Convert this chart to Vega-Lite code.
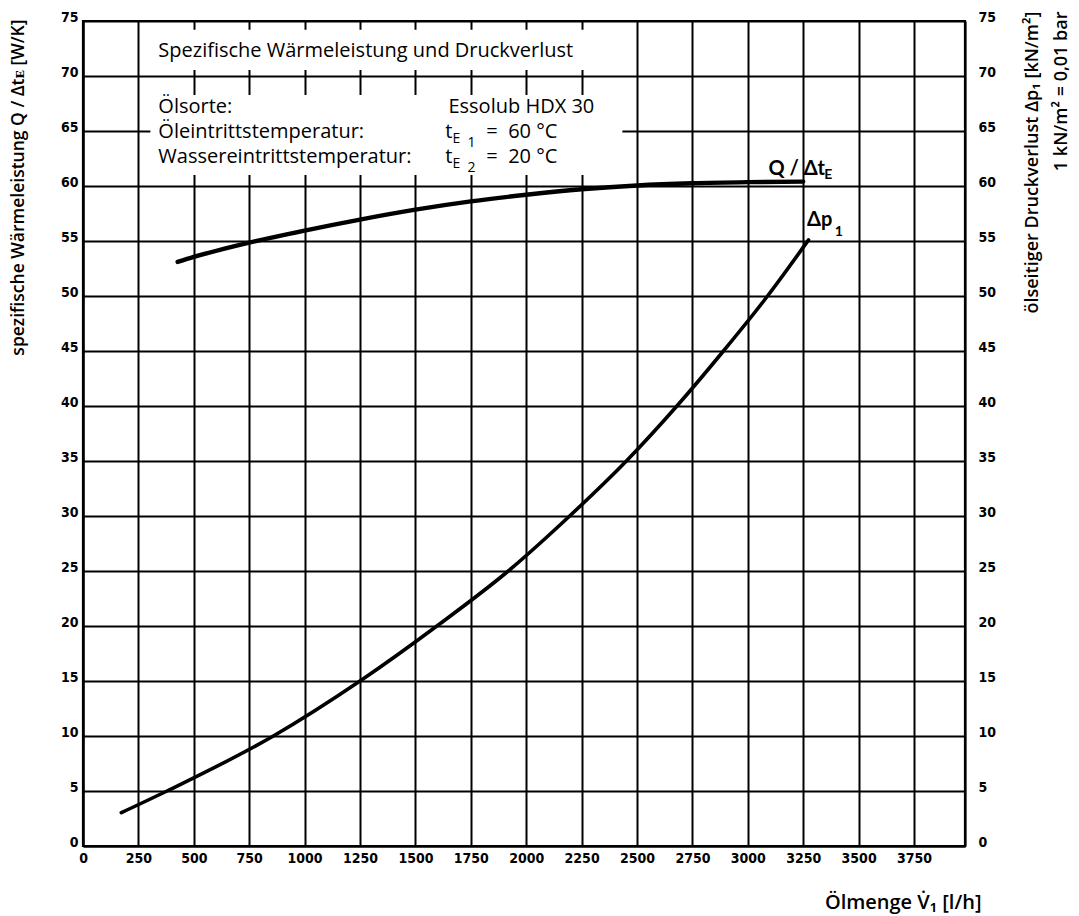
{
  "$schema": "https://vega.github.io/schema/vega-lite/v6.json",
  "width": 882,
  "height": 825,
  "autosize": "none",
  "padding": {"left": 83, "top": 21, "right": 114, "bottom": 70},
  "background": "white",
  "config": {
    "view": {"stroke": "black", "strokeWidth": 2.2},
    "axis": {
      "domainColor": "black", "domainWidth": 2.2,
      "gridColor": "black", "gridWidth": 2, "gridOpacity": 1,
      "ticks": false,
      "labelFont": "DejaVu Sans Condensed", "labelFontWeight": "bold", "labelFontSize": 14, "labelColor": "black",
      "labelFlush": false, "labelOverlap": false, "labelBound": false,
      "titleFont": "Open Sans", "titleFontWeight": 600, "titleFontSize": 17, "titleColor": "black"
    }
  },
  "datasets": {
    "mask": [
      {"x": 304, "xe": 2434, "y": 70.55, "ye": 74.2},
      {"x": 304, "xe": 2434, "y": 61.0, "ye": 68.27}
    ],
    "q": [
      {"x": 427, "y": 53.1}, {"x": 500, "y": 53.55}, {"x": 750, "y": 54.85}, {"x": 1000, "y": 55.95},
      {"x": 1250, "y": 56.95}, {"x": 1500, "y": 57.85}, {"x": 1750, "y": 58.6}, {"x": 2000, "y": 59.2},
      {"x": 2250, "y": 59.7}, {"x": 2500, "y": 60.05}, {"x": 2750, "y": 60.25}, {"x": 3000, "y": 60.35},
      {"x": 3250, "y": 60.4}
    ],
    "dp": [
      {"x": 173, "y": 3.03}, {"x": 379, "y": 5.0}, {"x": 859, "y": 10.0}, {"x": 1250, "y": 15.0},
      {"x": 1597, "y": 20.0}, {"x": 1919, "y": 25.0}, {"x": 2196, "y": 30.0}, {"x": 2452, "y": 35.0},
      {"x": 2680, "y": 40.0}, {"x": 2890, "y": 45.0}, {"x": 3089, "y": 50.0}, {"x": 3274, "y": 55.1}
    ],
    "boxText": [
      {"x": 340, "y": 71.75, "t": "Spezifische Wärmeleistung und Druckverlust"},
      {"x": 340, "y": 66.65, "t": "Ölsorte:"},
      {"x": 340, "y": 64.4, "t": "Öleintrittstemperatur:"},
      {"x": 340, "y": 62.1, "t": "Wassereintrittstemperatur:"},
      {"x": 1649, "y": 66.65, "t": "Essolub HDX 30"},
      {"x": 1635, "y": 64.4, "t": "t"},
      {"x": 1635, "y": 62.1, "t": "t"},
      {"x": 1820, "y": 64.4, "t": "= \u00a060 °C"},
      {"x": 1820, "y": 62.1, "t": "= \u00a020 °C"}
    ],
    "boxSub": [
      {"x": 1667, "y": 63.9, "t": "E"},
      {"x": 1735, "y": 63.57, "t": "1"},
      {"x": 1667, "y": 61.6, "t": "E"},
      {"x": 1735, "y": 61.3, "t": "2"}
    ],
    "curveText": [
      {"x": 3093, "y": 61.0, "t": "Q / Δt"},
      {"x": 3267, "y": 56.36, "t": "Δp"}
    ],
    "curveSub": [
      {"x": 3345, "y": 60.64, "t": "E"},
      {"x": 3392, "y": 55.5, "t": "1"}
    ]
  },
  "resolve": {"axis": {"x": "independent", "y": "independent"}},
  "layer": [
    {
      "data": {"name": "mask"},
      "mark": {"type": "rect", "fill": "white", "stroke": null},
      "encoding": {
        "x": {
          "field": "x", "type": "quantitative",
          "scale": {"domain": [0, 3980], "nice": false, "zero": false},
          "axis": {
            "orient": "bottom", "format": "d",
            "values": [0, 250, 500, 750, 1000, 1250, 1500, 1750, 2000, 2250, 2500, 2750, 3000, 3250, 3500, 3750],
            "labelPadding": 5, "labelAngle": 0, "labelBaseline": "top",
            "title": "Ölmenge V̇₁ [l/h]", "titleFontSize": 20,
            "titleX": 898, "titleY": 62, "titleAlign": "right", "titleBaseline": "alphabetic"
          }
        },
        "x2": {"field": "xe"},
        "y": {
          "field": "y", "type": "quantitative",
          "scale": {"domain": [0, 75], "nice": false, "zero": false},
          "axis": {
            "orient": "left",
            "values": [0, 5, 10, 15, 20, 25, 30, 35, 40, 45, 50, 55, 60, 65, 70, 75],
            "labelPadding": 5, "labelBaseline": "alphabetic",
            "title": "spezifische Wärmeleistung Q / Δtᴇ [W/K]", "titleFontSize": 17.5,
            "titleAngle": -90, "titleAlign": "right", "titleBaseline": "middle",
            "titleX": -65, "titleY": -2
          }
        },
        "y2": {"field": "ye"}
      }
    },
    {
      "data": {"name": "dp"},
      "mark": {"type": "line", "color": "black", "strokeWidth": 3.6, "interpolate": "monotone", "strokeCap": "round"},
      "encoding": {
        "x": {"field": "x", "type": "quantitative", "scale": {"domain": [0, 3980], "nice": false, "zero": false}, "axis": null},
        "y": {
          "field": "y", "type": "quantitative",
          "scale": {"domain": [0, 75], "nice": false, "zero": false},
          "axis": {
            "orient": "right", "grid": false,
            "values": [0, 5, 10, 15, 20, 25, 30, 35, 40, 45, 50, 55, 60, 65, 70, 75],
            "labelPadding": 13, "labelAlign": "left", "labelBaseline": "alphabetic",
            "title": ["ölseitiger Druckverlust Δp₁ [kN/m²]", "1 kN/m² = 0,01 bar"],
            "titleAngle": -90, "titleAlign": "right", "titleBaseline": "middle",
            "titleX": 67, "titleY": -10, "titleLineHeight": 29, "titleFontSize": 18
          }
        }
      }
    },
    {
      "data": {"name": "q"},
      "mark": {"type": "line", "color": "black", "strokeWidth": 4.4, "interpolate": "monotone", "strokeCap": "round"},
      "encoding": {
        "x": {"field": "x", "type": "quantitative", "scale": {"domain": [0, 3980], "nice": false, "zero": false}, "axis": null},
        "y": {"field": "y", "type": "quantitative", "scale": {"domain": [0, 75], "nice": false, "zero": false}, "axis": null}
      }
    },
    {
      "data": {"name": "boxText"},
      "mark": {"type": "text", "align": "left", "baseline": "alphabetic", "font": "Open Sans", "fontSize": 20, "color": "black"},
      "encoding": {
        "x": {"field": "x", "type": "quantitative", "scale": {"domain": [0, 3980], "nice": false, "zero": false}, "axis": null},
        "y": {"field": "y", "type": "quantitative", "scale": {"domain": [0, 75], "nice": false, "zero": false}, "axis": null},
        "text": {"field": "t"}
      }
    },
    {
      "data": {"name": "boxSub"},
      "mark": {"type": "text", "align": "left", "baseline": "alphabetic", "font": "Open Sans", "fontSize": 14, "color": "black"},
      "encoding": {
        "x": {"field": "x", "type": "quantitative", "scale": {"domain": [0, 3980], "nice": false, "zero": false}, "axis": null},
        "y": {"field": "y", "type": "quantitative", "scale": {"domain": [0, 75], "nice": false, "zero": false}, "axis": null},
        "text": {"field": "t"}
      }
    },
    {
      "data": {"name": "curveText"},
      "mark": {"type": "text", "align": "left", "baseline": "alphabetic", "font": "Lato", "fontWeight": "bold", "fontSize": 20, "color": "black"},
      "encoding": {
        "x": {"field": "x", "type": "quantitative", "scale": {"domain": [0, 3980], "nice": false, "zero": false}, "axis": null},
        "y": {"field": "y", "type": "quantitative", "scale": {"domain": [0, 75], "nice": false, "zero": false}, "axis": null},
        "text": {"field": "t"}
      }
    },
    {
      "data": {"name": "curveSub"},
      "mark": {"type": "text", "align": "left", "baseline": "alphabetic", "font": "Lato", "fontWeight": "bold", "fontSize": 14, "color": "black"},
      "encoding": {
        "x": {"field": "x", "type": "quantitative", "scale": {"domain": [0, 3980], "nice": false, "zero": false}, "axis": null},
        "y": {"field": "y", "type": "quantitative", "scale": {"domain": [0, 75], "nice": false, "zero": false}, "axis": null},
        "text": {"field": "t"}
      }
    }
  ]
}
